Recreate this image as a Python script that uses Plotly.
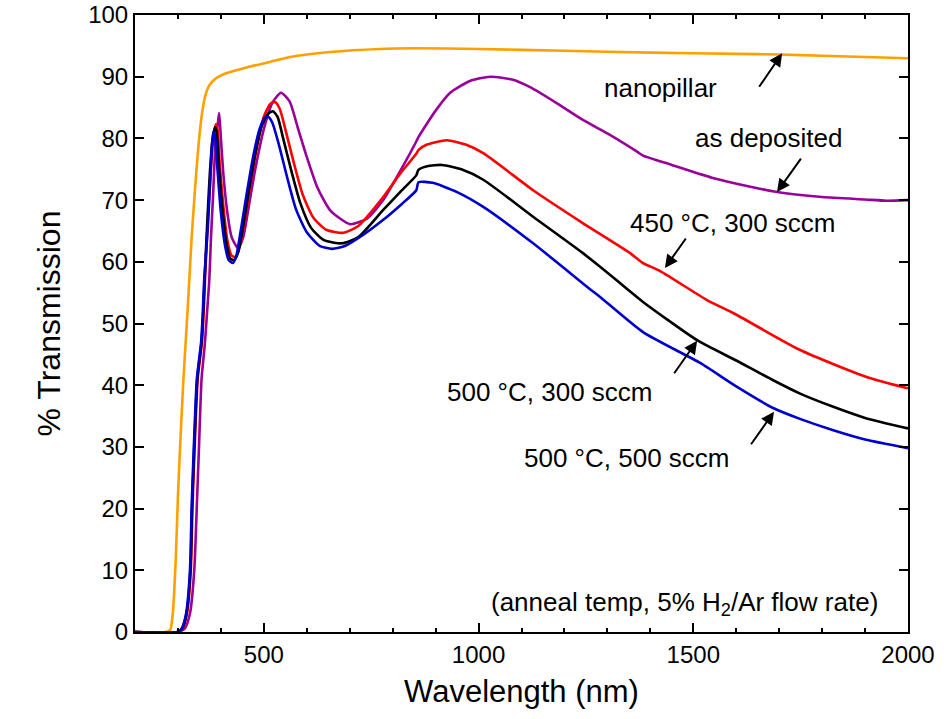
import plotly.graph_objects as go

# ---------------- data ----------------
nano_wl = [200, 270, 282, 288, 295, 300, 305, 312, 318, 324, 332, 340, 348, 356, 364, 374, 390, 414, 460, 514, 561, 654, 770, 850, 1000, 1200, 1400, 1600, 1700, 1800, 2000]
nano_T  = [0, 0, 0.3, 3, 12, 22, 30, 40, 47, 54, 64, 72, 79, 84, 87, 88.7, 89.8, 90.6, 91.5, 92.4, 93.2, 94.0, 94.5, 94.6, 94.5, 94.2, 93.9, 93.7, 93.6, 93.4, 93.0]

asdep_wl = [200, 300, 316, 328, 338, 344, 349, 355, 363, 368, 373, 377, 382, 388, 393, 396, 400, 406, 415, 425, 440, 452, 465, 480, 500, 520, 540, 560, 580, 600, 625, 655, 701, 740, 778, 820, 855, 860, 900, 934, 980, 1027, 1080, 1120, 1180, 1243, 1300, 1370, 1383, 1450, 1550, 1695, 1800, 1900, 1950, 2000]
asdep_T  = [0, 0, 0.6, 3, 10, 20.5, 30, 41, 47, 52, 57, 64, 71, 80, 82.5, 84.1, 80, 74, 68, 64, 62.2, 64, 69, 75, 81.5, 85.8, 87.4, 86, 81.5, 77, 72, 68.3, 66.1, 67, 70, 75, 79.5, 80.2, 84.5, 87.4, 89.3, 90.0, 89.5, 88.3, 85.8, 83.0, 80.8, 77.8, 77.2, 75.7, 73.5, 71.3, 70.5, 70.1, 69.9, 70.0]

t450_wl = [200, 300, 311, 321, 330, 334, 339, 346, 356, 360, 363, 369, 375, 381, 388, 392, 397, 405, 415, 425, 435, 444, 455, 470, 485, 500, 515, 526, 537, 550, 570, 590, 615, 645, 685, 720, 778, 820, 855, 860, 880, 926, 970, 1011, 1127, 1240, 1353, 1383, 1423, 1532, 1593, 1749, 1905, 2000]
t450_T  = [0, 0, 0.6, 3, 10, 20.5, 30, 41, 47, 52, 57, 66, 73, 79, 82.3, 81.5, 76, 69.5, 63.5, 61, 60.8, 62.5, 66.5, 73, 79, 83.5, 85.6, 85.9, 84.8, 81.5, 76, 71, 67.2, 65.2, 64.7, 65.8, 70.5, 74.5, 77.5, 78.1, 79, 79.7, 79, 77.6, 71.6, 66.4, 61.4, 59.8, 58.5, 53.8, 51.7, 45.7, 41.3, 39.5]

t500a_wl = [200, 300, 310, 320, 329, 333, 338, 345, 355, 359, 362, 368, 374, 380, 386, 390, 395, 403, 413, 422, 431, 440, 450, 465, 480, 495, 510, 521, 532, 545, 565, 585, 610, 640, 682, 720, 778, 820, 855, 860, 880, 915, 960, 1011, 1127, 1243, 1283, 1346, 1383, 1509, 1600, 1686, 1750, 1826, 1900, 2000]
t500a_T  = [0, 0, 0.6, 3, 10, 20.5, 30, 41, 47, 52, 57, 66, 74, 79.5, 81.8, 81.2, 76, 69, 63, 60.5, 60.3, 61.5, 65, 71.5, 77.5, 82, 84, 84.4, 83.5, 80, 74.5, 69.5, 65.5, 63.5, 63.0, 64.0, 68.4, 71.5, 74.0, 74.9, 75.5, 75.7, 75.0, 73.3, 67.3, 61.4, 59.2, 55.6, 53.5, 47.3, 44.0, 40.8, 38.6, 36.5, 34.7, 33.0]

t500b_wl = [200, 300, 309, 319, 328, 332, 337, 344, 354, 358, 361, 370, 377, 382, 386, 392, 400, 410, 418, 428, 436, 445, 460, 475, 490, 502, 510, 520, 535, 555, 575, 600, 630, 659, 690, 730, 778, 820, 855, 860, 893, 950, 1011, 1127, 1259, 1283, 1383, 1516, 1600, 1686, 1750, 1826, 1900, 2000]
t500b_T  = [0, 0, 0.6, 3, 10, 20.5, 30, 41, 47, 52, 57, 66, 76, 81, 80.5, 75, 68, 62.5, 60.3, 59.8, 61, 64.5, 71, 77, 81.5, 83.3, 83.5, 82.5, 79, 73.5, 68.5, 64.8, 62.6, 62.1, 62.6, 64.3, 66.8, 69.3, 71.6, 72.9, 72.8, 71.3, 68.9, 63.0, 55.6, 54.3, 48.6, 43.6, 39.8, 36.3, 34.5, 32.7, 31.2, 29.8]

series_names  = ["nanopillar", "as deposited", "450 °C, 300 sccm", "500 °C, 300 sccm", "500 °C, 500 sccm"]
series_colors = ["#FFA000", "#990099", "#FF0000", "#000000", "#0000CC"]

# label annotations: text, text position (nm, %T)
label_text = ["nanopillar", "as deposited", "450 °C, 300 sccm", "500 °C, 300 sccm", "500 °C, 500 sccm"]
label_x = [1423, 1674, 1593, 1166, 1346]
label_y = [88.2, 80.1, 66.3, 38.9, 28.2]
# arrows: head position (nm, %T) and tail offset (px)
arrow_x = [1707, 1695, 1434, 1509, 1688]
arrow_y = [93.8, 71.3, 59.0, 47.2, 35.7]
arrow_ax = [-24, 25, 22, -24, -24]
arrow_ay = [35, -35, -31, 34, 34]

note_text = "(anneal temp, 5% H<sub>2</sub>/Ar flow rate)"

# ---------------- figure ----------------
FONT = "Liberation Sans, Arial, sans-serif"
fig = go.Figure()
all_wl = [nano_wl, asdep_wl, t450_wl, t500a_wl, t500b_wl]
all_T = [nano_T, asdep_T, t450_T, t500a_T, t500b_T]
for wl, T, name, col in zip(all_wl, all_T, series_names, series_colors):
    fig.add_trace(go.Scatter(x=wl, y=T, mode="lines", name=name,
                             line=dict(color=col, width=2.6, shape="spline", smoothing=0.6),
                             showlegend=False))

for t, x, y in zip(label_text, label_x, label_y):
    fig.add_annotation(x=x, y=y, text=t, showarrow=False,
                       font=dict(family=FONT, size=26, color="black"))
for x, y, ax, ay in zip(arrow_x, arrow_y, arrow_ax, arrow_ay):
    fig.add_annotation(x=x, y=y, ax=ax, ay=ay, text="", showarrow=True,
                       arrowhead=2, arrowsize=1.3, arrowwidth=2, arrowcolor="black", standoff=0)

fig.add_annotation(x=1479, y=4.7, text=note_text, showarrow=False,
                   font=dict(family=FONT, size=26, color="black"))

fig.update_layout(
    width=946, height=719,
    margin=dict(l=135, r=38, t=15, b=87),
    plot_bgcolor="white", paper_bgcolor="white",
    font=dict(family=FONT, size=24, color="black"),
)
fig.update_xaxes(range=[200, 2000], tickvals=[500, 1000, 1500, 2000],
                 ticks="inside", ticklen=9, tickwidth=2, tickcolor="black",
                 minor=dict(dtick=100, tick0=200, ticks="inside", ticklen=4, tickwidth=1.5, tickcolor="black"),
                 showline=True, linewidth=2, linecolor="black", mirror="allticks",
                 showgrid=False, zeroline=False, automargin=False,
                 tickfont=dict(size=24),
                 title=dict(text="Wavelength (nm)", font=dict(size=31), standoff=14))
fig.update_yaxes(range=[0, 100], dtick=10,
                 ticks="inside", ticklen=9, tickwidth=2, tickcolor="black",
                 showline=True, linewidth=2, linecolor="black", mirror="allticks",
                 showgrid=False, zeroline=False, automargin=False,
                 tickfont=dict(size=24),
                 title=dict(text="% Transmission", font=dict(size=32), standoff=18))

fig.write_html("out.html")
